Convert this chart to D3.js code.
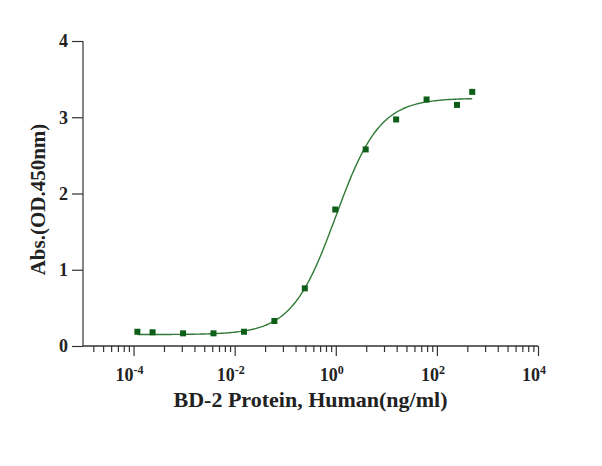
<!DOCTYPE html>
<html lang="en">
<head>
<meta charset="utf-8">
<title>BD-2 Protein ELISA</title>
<script src="https://cdn.jsdelivr.net/npm/d3@7"></script>
<style>
  body { margin: 0; background: #fff; }
  text { font-family: "Liberation Serif", "Times New Roman", serif; font-weight: bold; fill: #222; }
</style>
</head>
<body>
<svg id="chart" width="602" height="466"></svg>
<script>

// concentrations (ng/ml) and absorbance
var conc = [0.000119, 0.000238, 0.000954, 0.00381, 0.0153, 0.061, 0.244, 0.977, 3.906, 15.625, 62.5, 250, 500]
var absorb = [0.187, 0.18, 0.166, 0.166, 0.187, 0.328, 0.756, 1.79, 2.578, 2.971, 3.233, 3.162, 3.333]

// 4PL fit drawn through the points (bottom, top, EC50, hill)
var fitParams = [0.15, 3.25, 1.0, 1.0]

var xMajor = [1e-4, 1e-2, 1e0, 1e2, 1e4]
var xExp = ["-4", "-2", "0", "2", "4"]
var yTicks = [0, 1, 2, 3, 4]

var svg = d3.select("#chart"),
    margin = {top: 41, left: 83, bottom: 120, right: 64},
    width = +svg.attr("width"),
    height = +svg.attr("height")

var x = d3.scaleLog()
  .domain([1e-5, 1e4])
  .range([margin.left, width - margin.right])

var y = d3.scaleLinear()
  .domain([0, 4])
  .range([height - margin.bottom, margin.top])

// minor ticks: GraphPad style, k^2 steps inside each two-decade block
var minor = []
;[1e-6, 1e-4, 1e-2, 1e0, 1e2].forEach(function(m) {
  for (var k = 2; k <= 9; k++) {
    var v = m * k * k
    if (v > 1e-5 && v < 1e4) minor.push(v)
  }
})

var xAxisG = svg.append("g")
  .attr("transform", `translate(0,${y(0)})`)

xAxisG.call(d3.axisBottom(x).tickValues(minor).tickSize(6).tickFormat(""))
xAxisG.append("g").call(d3.axisBottom(x).tickValues(xMajor).tickSize(10).tickFormat(""))
xAxisG.selectAll(".domain").attr("d", `M${x.range()[0]},0H${x.range()[1]}`)
xAxisG.selectAll("path, line").attr("stroke", "#333").attr("stroke-width", 1.2)

var labels = svg.append("g")
  .selectAll("text")
  .data(xMajor)
  .enter().append("text")
    .attr("x", d => x(d) - 4)
    .attr("y", y(0) + 35)
    .attr("text-anchor", "middle")
    .attr("font-size", "18px")

labels.append("tspan").text("10")
labels.append("tspan")
  .attr("font-size", "12px")
  .attr("dy", -7)
  .text((d, i) => xExp[i])

var yAxisG = svg.append("g")
  .attr("transform", `translate(${margin.left},0)`)
  .call(d3.axisLeft(y).tickValues(yTicks).tickSize(11).tickPadding(4).tickFormat(d3.format("d")))

yAxisG.selectAll("path, line").attr("stroke", "#333").attr("stroke-width", 1.2)
yAxisG.select(".domain").attr("d", `M0,${y(0)}V${y(4)}`)
yAxisG.selectAll("text")
  .attr("font-size", "18px")
  .attr("font-family", "Liberation Serif")
  .attr("font-weight", "bold")
  .attr("fill", "#222")

// fitted curve
var fit = function(c) {
  var b = fitParams[0], t = fitParams[1], ec = fitParams[2], h = fitParams[3]
  return b + (t - b) / (1 + Math.pow(ec / c, h))
}
var curveX = d3.range(0, 201).map(i => Math.pow(10, Math.log10(conc[0]) + i / 200 * (Math.log10(conc[conc.length - 1]) - Math.log10(conc[0]))))

svg.append("path")
  .datum(curveX)
  .attr("fill", "none")
  .attr("stroke", "#2f7a34")
  .attr("stroke-width", 1.4)
  .attr("d", d3.line().x(d => x(d)).y(d => y(fit(d))))

svg.selectAll(".pt")
  .data(conc)
  .enter().append("rect")
    .attr("class", "pt")
    .attr("x", d => x(d) - 3)
    .attr("y", (d, i) => y(absorb[i]) - 3)
    .attr("width", 6)
    .attr("height", 6)
    .attr("fill", "#0d5e16")

svg.append("text")
  .attr("x", (x.range()[0] + x.range()[1]) / 2)
  .attr("y", 407)
  .attr("text-anchor", "middle")
  .attr("font-size", "22px")
  .text("BD-2 Protein, Human(ng/ml)")

svg.append("text")
  .attr("transform", `translate(45,${(y(0) + y(4)) / 2 + 6}) rotate(-90)`)
  .attr("text-anchor", "middle")
  .attr("font-size", "21px")
  .text("Abs.(OD.450nm)")

</script>
</body>
</html>
